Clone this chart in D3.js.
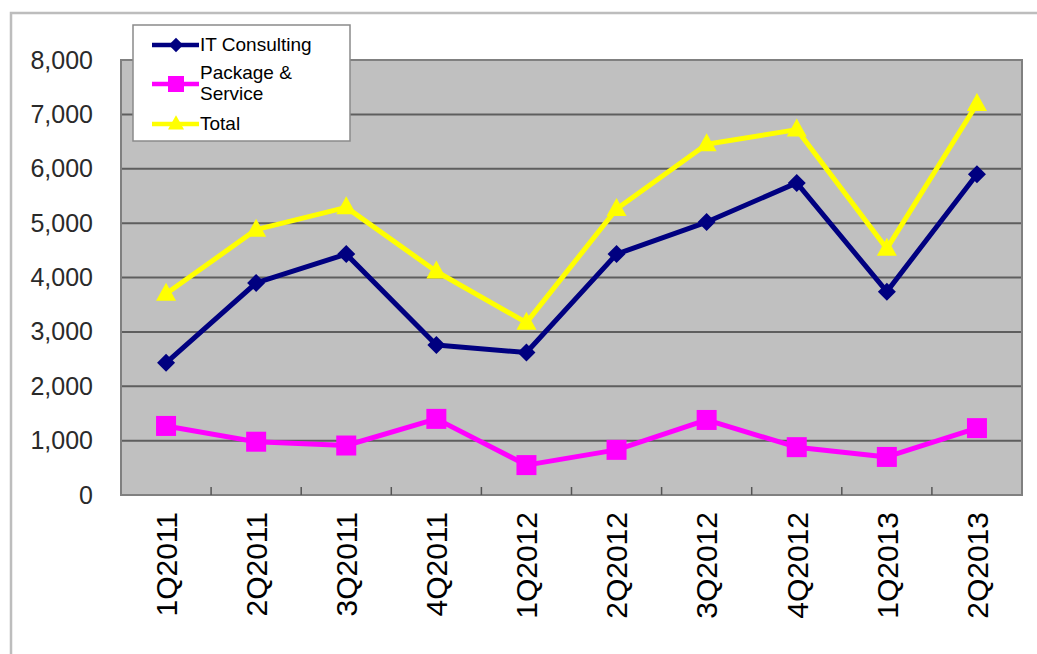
<!DOCTYPE html>
<html>
<head>
<meta charset="utf-8">
<script src="https://cdn.jsdelivr.net/npm/d3@7"></script>
<style>
  body { margin: 0; background: #fff; }
  svg { display: block; font-family: "Liberation Sans", Arial, sans-serif; }
</style>
</head>
<body>
<svg id="chart" width="1037" height="654"></svg>
<script>
// quarters on the x axis
const quarters = ["1Q2011", "2Q2011", "3Q2011", "4Q2011", "1Q2012", "2Q2012", "3Q2012", "4Q2012", "1Q2013", "2Q2013"];
// values
const itConsulting = [2430, 3900, 4430, 2760, 2620, 4430, 5020, 5740, 3740, 5900];
const packageService = [1270, 980, 910, 1400, 550, 830, 1380, 880, 700, 1230];
const total = [3700, 4880, 5290, 4110, 3170, 5260, 6450, 6720, 4530, 7190];
const yTicks = [0, 1000, 2000, 3000, 4000, 5000, 6000, 7000, 8000];

const series = [
    { name: ["IT Consulting"], values: itConsulting, color: "#000080", marker: "diamond" },
    { name: ["Package &", "Service"], values: packageService, color: "#ff00ff", marker: "square" },
    { name: ["Total"], values: total, color: "#ffff00", marker: "triangle" }
];

const plot = { left: 121, top: 60, right: 1022, bottom: 495 };

const svg = d3.select("#chart");

const x = d3.scaleBand()
    .domain(quarters)
    .range([plot.left, plot.right]);

const y = d3.scaleLinear()
    .domain([0, 8000])
    .range([plot.bottom, plot.top]);

const cx = d => x(d) + x.bandwidth() / 2;

// outer frame (only left and top edges visible)
svg.append("path")
    .attr("d", "M11,660 L11,13 L1040,13")
    .attr("fill", "none")
    .attr("stroke", "#bdbdbd")
    .attr("stroke-width", 2.5);

// plot background
svg.append("rect")
    .attr("x", plot.left)
    .attr("y", plot.top)
    .attr("width", plot.right - plot.left)
    .attr("height", plot.bottom - plot.top)
    .attr("fill", "#c0c0c0");

// gridlines
svg.append("g")
    .selectAll("line")
    .data(yTicks.filter(d => d > 0 && d < 8000))
    .enter()
    .append("line")
    .attr("x1", plot.left)
    .attr("x2", plot.right)
    .attr("y1", d => y(d))
    .attr("y2", d => y(d))
    .attr("stroke", "#5e5e5e")
    .attr("stroke-width", 2);

svg.append("rect")
    .attr("x", plot.left)
    .attr("y", plot.top)
    .attr("width", plot.right - plot.left)
    .attr("height", plot.bottom - plot.top)
    .attr("fill", "none")
    .attr("stroke", "#808080")
    .attr("stroke-width", 2);

// y axis labels
const yAxis = svg.append("g")
    .attr("transform", `translate(${plot.left},0)`)
    .call(d3.axisLeft(y).tickValues(yTicks).tickFormat(d3.format(",")).tickSize(0).tickPadding(28));
yAxis.select(".domain").remove();
yAxis.selectAll("text")
    .attr("font-size", 25)
    .attr("font-family", "Liberation Sans, Arial, sans-serif")
    .attr("fill", "#2a2a2a");

// x axis ticks (inside) and rotated labels
svg.append("g")
    .selectAll("line")
    .data(quarters.slice(1))
    .enter()
    .append("line")
    .attr("x1", d => x(d))
    .attr("x2", d => x(d))
    .attr("y1", plot.bottom)
    .attr("y2", plot.bottom - 8)
    .attr("stroke", "#555")
    .attr("stroke-width", 1.5);

svg.append("g")
    .selectAll("text")
    .data(quarters)
    .enter()
    .append("text")
    .attr("transform", d => `translate(${cx(d)},512) rotate(-90)`)
    .attr("text-anchor", "end")
    .attr("dy", "0.36em")
    .attr("font-size", 30)
    .attr("fill", "#000")
    .text(d => d);

// marker shapes
function markerPath(type) {
    if (type === "diamond") return "M0,-9 L9,0 L0,9 L-9,0 Z";
    if (type === "square") return "M-10,-10 L10,-10 L10,10 L-10,10 Z";
    return "M0,-11 L10,7 L-10,7 Z";
}

const line = d3.line()
    .x(d => cx(d.q))
    .y(d => y(d.v));

series.forEach(s => {
    const pts = quarters.map((q, i) => ({ q: q, v: s.values[i] }));
    const g = svg.append("g");
    g.append("path")
        .datum(pts)
        .attr("d", line)
        .attr("fill", "none")
        .attr("stroke", s.color)
        .attr("stroke-width", 5)
        .attr("stroke-linejoin", "round");
    g.selectAll("path.mk")
        .data(pts)
        .enter()
        .append("path")
        .attr("class", "mk")
        .attr("d", markerPath(s.marker))
        .attr("transform", d => `translate(${cx(d.q)},${y(d.v)})`)
        .attr("fill", s.color);
});

// legend
const legend = svg.append("g");
legend.append("rect")
    .attr("x", 133)
    .attr("y", 25)
    .attr("width", 217)
    .attr("height", 116)
    .attr("fill", "#fff")
    .attr("stroke", "#8a8a8a")
    .attr("stroke-width", 1.5);

const legendRows = [
    { lineY: 45, textY: [44] },
    { lineY: 84, textY: [72, 93] },
    { lineY: 124, textY: [123] }
];

series.forEach((s, i) => {
    const r = legendRows[i];
    legend.append("line")
        .attr("x1", 152)
        .attr("x2", 199)
        .attr("y1", r.lineY)
        .attr("y2", r.lineY)
        .attr("stroke", s.color)
        .attr("stroke-width", 4.5);
    legend.append("path")
        .attr("d", markerPath(s.marker))
        .attr("transform", `translate(176,${r.lineY}) scale(0.8)`)
        .attr("fill", s.color);
    s.name.forEach((t, j) => {
        legend.append("text")
            .attr("x", 200)
            .attr("y", r.textY[j])
            .attr("dy", "0.35em")
            .attr("font-size", 19)
            .attr("fill", "#000")
            .text(t);
    });
});
</script>
</body>
</html>
